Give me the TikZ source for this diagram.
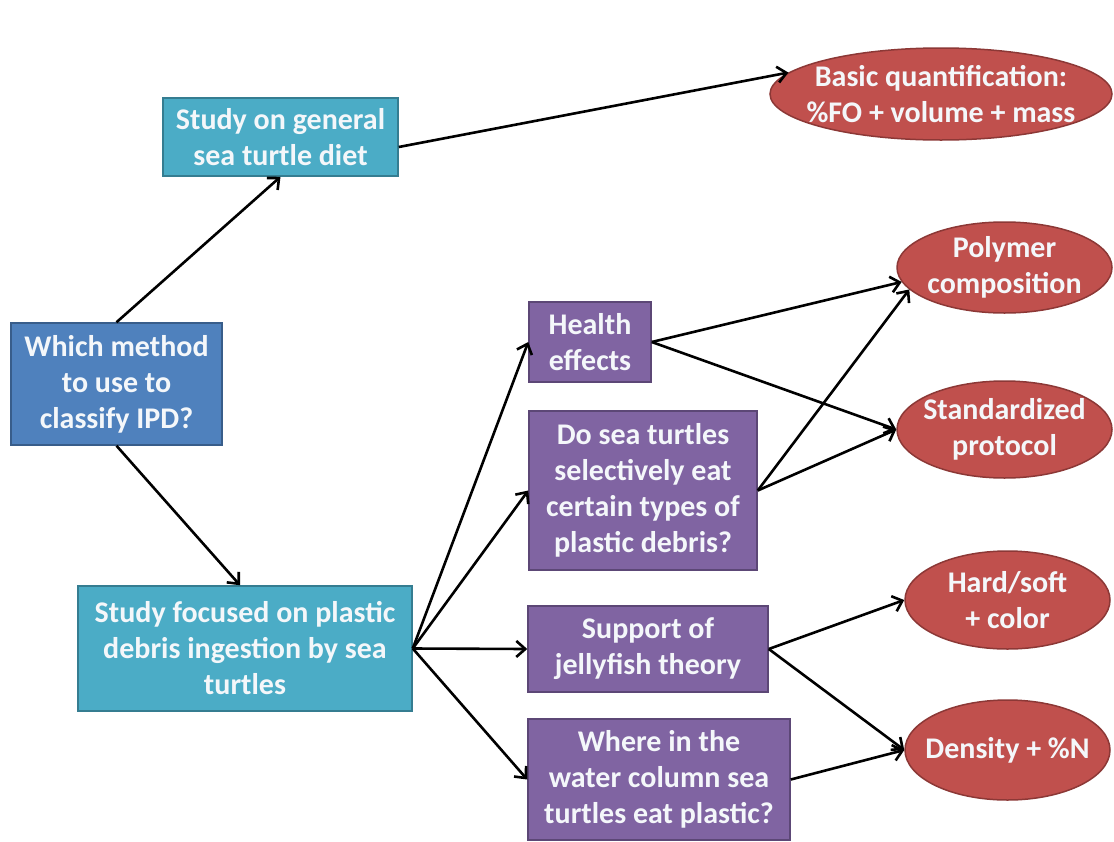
\documentclass[tikz,border=0pt]{standalone}
\usepackage{fontspec}
\setmainfont{Carlito}
\usetikzlibrary{shapes.geometric,arrows.meta}
\definecolor{cblue}{HTML}{4F81BD}
\definecolor{cblueb}{HTML}{385D8A}
\definecolor{cteal}{HTML}{4BACC6}
\definecolor{ctealb}{HTML}{357D91}
\definecolor{cpurp}{HTML}{8064A2}
\definecolor{cpurpb}{HTML}{5C4776}
\definecolor{cred}{HTML}{C0504D}
\definecolor{credb}{HTML}{8C3836}
\definecolor{ctext}{HTML}{F4F7FA}
\tikzset{
  txt/.style={inner sep=0pt, align=center, text=ctext,
    font=\fontsize{30}{36}\selectfont\bfseries},
  base/.style={txt, line width=1.5pt},
  bluebox/.style={base, rectangle, fill=cblue, draw=cblueb},
  tealbox/.style={base, rectangle, fill=cteal, draw=ctealb},
  purpbox/.style={base, rectangle, fill=cpurp, draw=cpurpb},
  redell/.style={base, ellipse, fill=cred, draw=credb},
  conn/.style={line width=2.6pt, -{Straight Barb[length=9pt,width=16pt,line width=2.6pt]}},
}
\begin{document}
\begin{tikzpicture}[x=1pt,y=-1pt]
\useasboundingbox (0,0) rectangle (1114,841);
\node[bluebox, minimum width=211pt, minimum height=122pt] (which) at (116.5,384) {Which method\\to use to\\classify IPD?};
\node[tealbox, minimum width=235pt, minimum height=78pt] (gen) at (280.5,137) {Study on general\\sea turtle diet};
\node[tealbox, minimum width=334pt, minimum height=125pt] (focus) at (245,648.5) {Study focused on plastic\\debris ingestion by sea\\turtles};
\node[purpbox, minimum width=122pt, minimum height=80pt] (health) at (590,342) {Health\\effects};
\node[purpbox, minimum width=228pt, minimum height=159pt] (select) at (643,490.5) {Do sea turtles\\selectively eat\\certain types of\\plastic debris?};
\node[purpbox, minimum width=240pt, minimum height=86pt] (jelly) at (648,649) {Support of\\jellyfish theory};
\node[purpbox, minimum width=262pt, minimum height=121pt] (where) at (659,779.5) {Where in the\\water column sea\\turtles eat plastic?};
\node[redell, minimum width=342pt, minimum height=92pt, label={[txt]center:{Basic quantification:\\\%FO + volume + mass}}] (basic) at (941,94) {};
\node[redell, minimum width=215pt, minimum height=91pt, label={[txt]center:{Polymer\\composition}}] (poly) at (1004.5,267.5) {};
\node[redell, minimum width=215pt, minimum height=97pt, label={[txt]center:{Standardized\\protocol}}] (std) at (1004.5,429.5) {};
\node[redell, minimum width=205pt, minimum height=98pt, label={[txt]center:{Hard/soft\\+ color}}] (hard) at (1007.5,600) {};
\node[redell, minimum width=205pt, minimum height=100pt, label={[txt]center:{Density + \%N}}] (dens) at (1007.5,750) {};
\draw[conn] (which.north) -- (gen.south);
\draw[conn] (which.south) -- ([xshift=-5pt]focus.north);
\draw[conn] ([yshift=-10pt]gen.east) -- (basic.172);
\draw[conn] (focus.east) -- (health.west);
\draw[conn] (focus.east) -- (select.west);
\draw[conn] (focus.east) -- (jelly.west);
\draw[conn] (focus.east) -- (where.west);
\draw[conn] (health.east) -- (poly.188);
\draw[conn] (health.east) -- (std.west);
\draw[conn] (select.east) -- (poly.193);
\draw[conn] (select.east) -- (std.west);
\draw[conn] (jelly.east) -- (hard.west);
\draw[conn] (jelly.east) -- (dens.west);
\draw[conn] (where.east) -- (dens.west);
\end{tikzpicture}
\end{document}
